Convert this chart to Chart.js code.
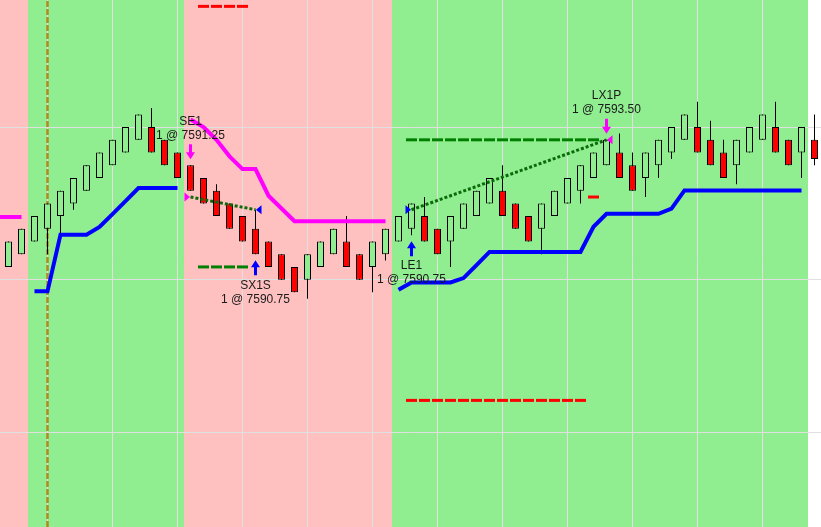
<!DOCTYPE html>
<html>
<head>
<meta charset="utf-8">
<script src="https://cdn.jsdelivr.net/npm/chart.js@4.4.1/dist/chart.umd.min.js"></script>
<style>
  html, body { margin: 0; padding: 0; background: #fff; }
  #wrap { width: 821px; height: 527px; position: relative; }
</style>
</head>
<body>
<div id="wrap"><canvas id="chart"></canvas></div>
<script>
// One entry per bar, left to right (63 bars).
var opens = [7588.5, 7589, 7589.5, 7590, 7590.5, 7591, 7591.5, 7592, 7592.5, 7593, 7593.5,
  7594, 7593.5, 7593, 7592.5, 7592, 7591.5, 7591, 7590.5, 7590, 7589.5, 7589, 7588.5,
  7588, 7588.5, 7589, 7589.5, 7589, 7588.5, 7589, 7589.5, 7590, 7590.5, 7590, 7589.5,
  7590, 7590.5, 7591, 7591.5, 7591, 7590.5, 7590, 7590.5, 7591, 7591.5, 7592, 7592.5,
  7593, 7592.5, 7592, 7592.5, 7593, 7593.5, 7594, 7593.5, 7593, 7592.5, 7593, 7593.5,
  7594, 7593.5, 7593, 7593.5];
var highs = [7589.5, 7590, 7590.5, 7591, 7591.5, 7592, 7592.5, 7593, 7593.5, 7594, 7594.5,
  7594.75, 7593.5, 7593, 7592.5, 7592, 7591.75, 7591, 7590.5, 7590.75, 7589.5, 7589, 7588.5,
  7589, 7589.5, 7590, 7590.5, 7589, 7589.5, 7590, 7590.5, 7591, 7591.25, 7590, 7590.5,
  7591, 7591.5, 7592, 7592.5, 7591, 7590.5, 7591, 7591.5, 7592, 7592.5, 7593, 7593.5,
  7593.75, 7593, 7593, 7593.5, 7594, 7594.5, 7595, 7594.25, 7593.5, 7593.5, 7594, 7594.5,
  7595, 7593.5, 7594, 7594.5];
var lows = [7588.5, 7589, 7589.5, 7589, 7589.75, 7590.75, 7591.5, 7592, 7592.5, 7593, 7593.5,
  7593, 7592.5, 7592, 7591.5, 7591, 7590.5, 7590, 7589.5, 7589, 7588.5, 7588, 7587.5,
  7587.25, 7588.5, 7589, 7588.5, 7588, 7587.5, 7588.75, 7589.5, 7589.75, 7589.5, 7589, 7588.5,
  7590, 7590.5, 7591, 7590.5, 7590, 7589.5, 7589, 7590.5, 7591, 7591, 7592, 7592.5,
  7592, 7591.5, 7591.25, 7592, 7592.75, 7593.5, 7593, 7592.5, 7592, 7591.75, 7593, 7593.5,
  7593, 7592.5, 7592, 7592.5];
var closes = [7589.5, 7590, 7590.5, 7591, 7591.5, 7592, 7592.5, 7593, 7593.5, 7594, 7594.5,
  7593, 7592.5, 7592, 7591.5, 7591, 7590.5, 7590, 7589.5, 7589, 7588.5, 7588, 7587.5,
  7589, 7589.5, 7590, 7588.5, 7588, 7589.5, 7590, 7590.5, 7591, 7589.5, 7589, 7590.5,
  7591, 7591.5, 7592, 7590.5, 7590, 7589.5, 7591, 7591.5, 7592, 7592.5, 7593, 7593.5,
  7592, 7591.5, 7593, 7593.5, 7594, 7594.5, 7593, 7592.5, 7592, 7593.5, 7594, 7594.5,
  7593, 7592.5, 7594, 7592.75];

// Market position behind each bar: S = short, L = long, null = none
var zoneBefore = 'S'; // bar just left of the view
var zones = ['S', 'S',
  'L', 'L', 'L', 'L', 'L', 'L', 'L', 'L', 'L', 'L', 'L', 'L',
  'S', 'S', 'S', 'S', 'S', 'S', 'S', 'S', 'S', 'S', 'S', 'S', 'S', 'S', 'S', 'S',
  'L', 'L', 'L', 'L', 'L', 'L', 'L', 'L', 'L', 'L', 'L', 'L', 'L', 'L', 'L', 'L',
  'L', 'L', 'L', 'L', 'L', 'L', 'L', 'L', 'L', 'L', 'L', 'L', 'L', 'L', 'L', 'L',
  null];

// Trailing stop lines (magenta above price, blue below)
var shortStopBefore = 7590.46; // value of the bar just left of the view
var shortStop = [7590.46, 7590.46,
  null, null, null, null, null, null, null, null, null, null, null, null,
  7594.3, 7594.0, 7593.5, 7592.85, 7592.35, 7592.35, 7591.3, 7590.8,
  7590.3, 7590.3, 7590.3, 7590.3, 7590.3, 7590.3, 7590.3, 7590.3,
  null, null, null, null, null, null, null, null, null, null, null, null, null, null, null, null,
  null, null, null, null, null, null, null, null, null, null, null, null, null, null, null, null,
  null];
var longStop = [null, null,
  7587.54, 7587.54, 7589.77, 7589.77, 7589.77, 7590.07, 7590.58, 7591.09, 7591.6, 7591.6, 7591.6, 7591.6,
  null, null, null, null, null, null, null, null, null, null, null, null, null, null, null, null,
  7587.6, 7587.89, 7587.89, 7587.89, 7587.89, 7588.06, 7588.57, 7589.09, 7589.09, 7589.09, 7589.09,
  7589.09, 7589.09, 7589.09, 7589.09, 7590.08, 7590.59, 7590.59, 7590.59, 7590.59, 7590.59, 7590.79,
  7591.51, 7591.51, 7591.51, 7591.51, 7591.51, 7591.51, 7591.51, 7591.51, 7591.51, 7591.51,
  null];

// Protective stop and profit target per bar while a trade is open
var stopLevel = [null, null, null, null, null, null, null, null, null, null, null, null, null, null, null,
  7598.75, 7598.75, 7598.75, 7598.75,
  null, null, null, null, null, null, null, null, null, null, null, null,
  7583.25, 7583.25, 7583.25, 7583.25, 7583.25, 7583.25, 7583.25, 7583.25, 7583.25, 7583.25,
  7583.25, 7583.25, 7583.25, 7583.25, 7591.25,
  null, null, null, null, null, null, null, null, null, null, null, null, null, null, null, null, null];
var targetLevel = [null, null, null, null, null, null, null, null, null, null, null, null, null, null, null,
  7588.5, 7588.5, 7588.5, 7588.5,
  null, null, null, null, null, null, null, null, null, null, null, null,
  7593.5, 7593.5, 7593.5, 7593.5, 7593.5, 7593.5, 7593.5, 7593.5, 7593.5, 7593.5,
  7593.5, 7593.5, 7593.5, 7593.5, 7593.5,
  null, null, null, null, null, null, null, null, null, null, null, null, null, null, null, null, null];

// Trades
var tradeNames = ['SE1', 'SX1S', 'LE1', 'LX1P'];
var tradeBars = [14, 19, 31, 46];
var tradePrices = [7591.25, 7590.75, 7590.75, 7593.5];
var tradeSides = ['sell', 'buy', 'buy', 'sell'];
var tradeKinds = ['entry', 'exit', 'entry', 'exit'];

var sessionBreaks = [3];
var xGridBars = [3, 8, 13, 18, 23, 28, 33, 38, 43, 48, 53, 58];
var yGridPrices = [7582, 7588, 7594];

var X_MIN = -0.6538, X_MAX = 62.5, Y_MIN = 7578.27, Y_MAX = 7599;
var C = {
  pink: '#ffc0c0', green: '#90ee90', red: '#ff0000', magenta: '#ff00ff', blue: '#0000ff',
  dash: '#008000', dotted: '#0b6b0b', session: '#b08a20', grid: '#e0e0e0', text: '#1a1a1a',
};

function puntos(arr) {
  return arr.map(function (v, i) { return { x: i, y: v }; });
}

// background colour of each bar, under the grid
var zonasPlugin = {
  id: 'zonas',
  beforeDraw: function (chart) {
    var ctx = chart.ctx, xs = chart.scales.x, a = chart.chartArea;
    ctx.save();
    ctx.beginPath();
    ctx.rect(a.left, a.top, a.right - a.left, a.bottom - a.top);
    ctx.clip();
    [zoneBefore].concat(zones).forEach(function (z, j) {
      var i = j - 1;
      if (!z) return;
      var l = Math.round(xs.getPixelForValue(i - 0.5)), r = Math.round(xs.getPixelForValue(i + 0.5));
      ctx.fillStyle = z === 'S' ? C.pink : C.green;
      ctx.fillRect(l, a.top, r - l, a.bottom - a.top);
    });
    ctx.restore();
  },
};

function flecha(ctx, cx, top, dir, color) {
  // 15 px tall arrow, head 7 px
  ctx.fillStyle = color;
  ctx.beginPath();
  if (dir === 'down') {
    ctx.rect(cx - 1.5, top, 3, 8);
    ctx.moveTo(cx - 4.5, top + 8);
    ctx.lineTo(cx + 4.5, top + 8);
    ctx.lineTo(cx, top + 15);
  } else {
    ctx.rect(cx - 1.5, top + 7, 3, 8);
    ctx.moveTo(cx - 4.5, top + 7);
    ctx.lineTo(cx + 4.5, top + 7);
    ctx.lineTo(cx, top);
  }
  ctx.closePath();
  ctx.fill();
}

var tradesPlugin = {
  id: 'trades',
  afterDatasetsDraw: function (chart) {
    var ctx = chart.ctx, xs = chart.scales.x, ys = chart.scales.y;
    ctx.save();
    ctx.font = '12px "Liberation Sans", Arial, sans-serif';
    ctx.textAlign = 'center';
    ctx.textBaseline = 'middle';
    tradeNames.forEach(function (name, k) {
      var bar = tradeBars[k];
      var cx = xs.getPixelForValue(bar);
      var py = ys.getPixelForValue(tradePrices[k]);
      var color = tradeSides[k] === 'sell' ? C.magenta : C.blue;
      // entry / exit triangle
      ctx.fillStyle = color;
      ctx.beginPath();
      if (tradeKinds[k] === 'entry') {
        ctx.moveTo(cx - 6, py - 4.5); ctx.lineTo(cx - 6, py + 4.5); ctx.lineTo(cx - 0.5, py);
      } else {
        ctx.moveTo(cx + 6, py - 4.5); ctx.lineTo(cx + 6, py + 4.5); ctx.lineTo(cx + 0.5, py);
      }
      ctx.closePath();
      ctx.fill();
      var texto = '1 @ ' + tradePrices[k].toFixed(2);
      if (tradeSides[k] === 'sell') {
        var bottom = ys.getPixelForValue(highs[bar]) - 6;
        flecha(ctx, cx, bottom - 15, 'down', color);
        ctx.fillStyle = C.text;
        ctx.fillText(texto, cx, bottom - 24);
        ctx.fillText(name, cx, bottom - 38);
      } else {
        var top = ys.getPixelForValue(lows[bar]) + 6;
        flecha(ctx, cx, top, 'up', color);
        ctx.fillStyle = C.text;
        ctx.fillText(name, cx, top + 25);
        ctx.fillText(texto, cx, top + 39);
      }
    });
    ctx.restore();
  },
};

document.addEventListener('DOMContentLoaded', function () {
  var cuerpos = opens.map(function (o, i) { return { x: i, y: [o, closes[i]] }; });
  var mechas = lows.map(function (l, i) { return { x: i, y: [l, highs[i]] }; });
  var colores = opens.map(function (o, i) { return closes[i] >= o ? C.green : C.red; });

  var datasets = [
    {
      type: 'bar', data: cuerpos, backgroundColor: colores, borderColor: '#000', borderWidth: 1,
      borderSkipped: false, grouped: false, maxBarThickness: 7, inflateAmount: 0, order: 3,
    },
    {
      type: 'bar', data: mechas, backgroundColor: '#000', borderWidth: 0,
      grouped: false, maxBarThickness: 1, inflateAmount: 0, order: 4,
    },
    {
      type: 'line', data: [{ x: -1, y: shortStopBefore }].concat(puntos(shortStop)),
      borderColor: C.magenta, borderWidth: 4, pointRadius: 0, spanGaps: false, order: 2,
    },
    {
      type: 'line', data: puntos(longStop),
      borderColor: C.blue, borderWidth: 4, pointRadius: 0, spanGaps: false, order: 2,
    },
    {
      type: 'scatter', data: puntos(stopLevel), pointStyle: 'line', pointRadius: 5.5,
      pointBorderColor: C.red, pointBorderWidth: 3, order: 1,
    },
    {
      type: 'scatter', data: puntos(targetLevel), pointStyle: 'line', pointRadius: 5.5,
      pointBorderColor: C.dash, pointBorderWidth: 3, order: 1,
    },
  ];

  // dotted line from each entry to its exit
  for (var k = 0; k < tradeBars.length; k += 2) {
    datasets.push({
      type: 'line',
      data: [{ x: tradeBars[k], y: tradePrices[k] }, { x: tradeBars[k + 1], y: tradePrices[k + 1] }],
      borderColor: C.dotted, borderWidth: 3, borderDash: [3, 2], pointRadius: 0, order: 1,
    });
  }

  sessionBreaks.forEach(function (b) {
    datasets.push({
      type: 'line', data: [{ x: b, y: Y_MIN }, { x: b, y: Y_MAX }],
      borderColor: C.session, borderWidth: 2.5, borderDash: [6, 2], pointRadius: 0, order: 9,
    });
  });

  new Chart(document.getElementById('chart').getContext('2d'), {
    type: 'bar',
    data: { datasets: datasets },
    plugins: [zonasPlugin, tradesPlugin],
    options: {
      responsive: true,
      maintainAspectRatio: false,
      animation: false,
      events: [],
      layout: { padding: 0, autoPadding: false },
      plugins: { legend: { display: false }, tooltip: { enabled: false } },
      scales: {
        x: {
          type: 'linear', min: X_MIN, max: X_MAX, offset: false,
          grid: { color: C.grid, drawTicks: false, offset: false },
          border: { display: false },
          ticks: { display: false },
          afterBuildTicks: function (s) { s.ticks = xGridBars.map(function (v) { return { value: v }; }); },
        },
        y: {
          type: 'linear', min: Y_MIN, max: Y_MAX, beginAtZero: false,
          grid: { color: C.grid, drawTicks: false },
          border: { display: false },
          ticks: { display: false },
          afterBuildTicks: function (s) { s.ticks = yGridPrices.map(function (v) { return { value: v }; }); },
        },
      },
    },
  });
});
</script>
</body>
</html>
